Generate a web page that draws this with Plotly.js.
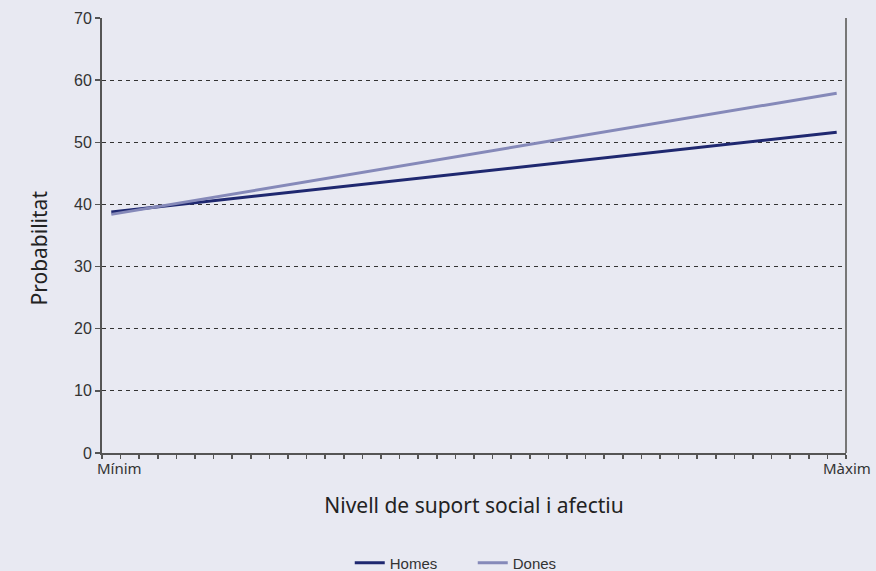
<!DOCTYPE html>
<html>
<head>
<meta charset="utf-8">
<script src="https://cdn.plot.ly/plotly-3.0.1.min.js"></script>
<style>html,body{margin:0;padding:0;background:#e8e9f2;}#chart{width:876px;height:571px;}</style>
</head>
<body>
<div id="chart"></div>
<script>
// Data
const seriesNames = ["Homes", "Dones"];
const xPoints = [0.5, 39.5];
const homesValues = [38.8, 51.6];
const donesValues = [38.4, 57.9];
const seriesColors = ["#1f2870", "#8589b9"];
const xTickPositions = [0, 40];
const xTickLabels = ["Mínim", "Màxim"];
const yTicks = [0, 10, 20, 30, 40, 50, 60, 70];
const xTitle = "Nivell de suport social i afectiu";
const yTitle = "Probabilitat";

const minorTicks = [];
for (let i = 0; i <= 40; i++) minorTicks.push(i);

const traces = [
  {x: xPoints, y: homesValues, name: seriesNames[0], mode: "lines",
   line: {color: seriesColors[0], width: 3}},
  {x: xPoints, y: donesValues, name: seriesNames[1], mode: "lines",
   line: {color: seriesColors[1], width: 3}}
];

const bg = "#e8e9f2";
const humanist = "Noto Sans, Open Sans, sans-serif";
const layout = {
  width: 876, height: 571,
  paper_bgcolor: bg, plot_bgcolor: bg,
  margin: {l: 102, r: 30, t: 18, b: 118, autoexpand: false},
  font: {family: "Liberation Sans, Arial, sans-serif", color: "#333", size: 15},
  showlegend: true,
  legend: {orientation: "h", x: 0.333, xanchor: "left", yref: "container", y: 0.014, yanchor: "middle",
           font: {size: 15, color: "#333"}, itemwidth: 30, entrywidth: 78, tracegroupgap: 0},
  xaxis: {
    range: [0, 40], tickvals: minorTicks, showticklabels: false,
    ticks: "outside", ticklen: 4, tickwidth: 1.5, tickcolor: "#555",
    showline: true, linecolor: "#555", linewidth: 2, mirror: false,
    showgrid: false, zeroline: false, fixedrange: true,
    title: {text: xTitle, standoff: 40,
            font: {family: humanist, size: 21, color: "#222"}}
  },
  yaxis: {
    range: [0, 70], tickvals: yTicks,
    ticks: "outside", ticklen: 5, tickwidth: 1.5, tickcolor: "#555",
    showline: true, linecolor: "#555", linewidth: 2,
    showgrid: true, gridcolor: "#333", griddash: "4px,4px", gridwidth: 1,
    zeroline: false, fixedrange: true,
    tickfont: {size: 16, color: "#333"}
  },
  shapes: [
    {type: "line", xref: "paper", yref: "paper", x0: 1, x1: 1, y0: 0, y1: 1,
     line: {color: "#777", width: 2}}
  ],
  annotations: [
    {x: 0, y: 0.5, xref: "paper", yref: "paper", text: yTitle, textangle: -90,
     showarrow: false, xanchor: "center", yanchor: "middle", xshift: -64, yshift: -13,
     font: {family: humanist, size: 21, color: "#222"}},
    {x: xTickPositions[0], y: 0, xref: "x", yref: "paper", text: xTickLabels[0],
     showarrow: false, xanchor: "left", yanchor: "top", xshift: -7, yshift: -3,
     font: {family: humanist, size: 15, color: "#333"}},
    {x: xTickPositions[1], y: 0, xref: "x", yref: "paper", text: xTickLabels[1],
     showarrow: false, xanchor: "center", yanchor: "top", xshift: 1, yshift: -3,
     font: {family: humanist, size: 15, color: "#333"}}
  ]
};

Plotly.newPlot("chart", traces, layout, {displayModeBar: false, staticPlot: true});
</script>
</body>
</html>
